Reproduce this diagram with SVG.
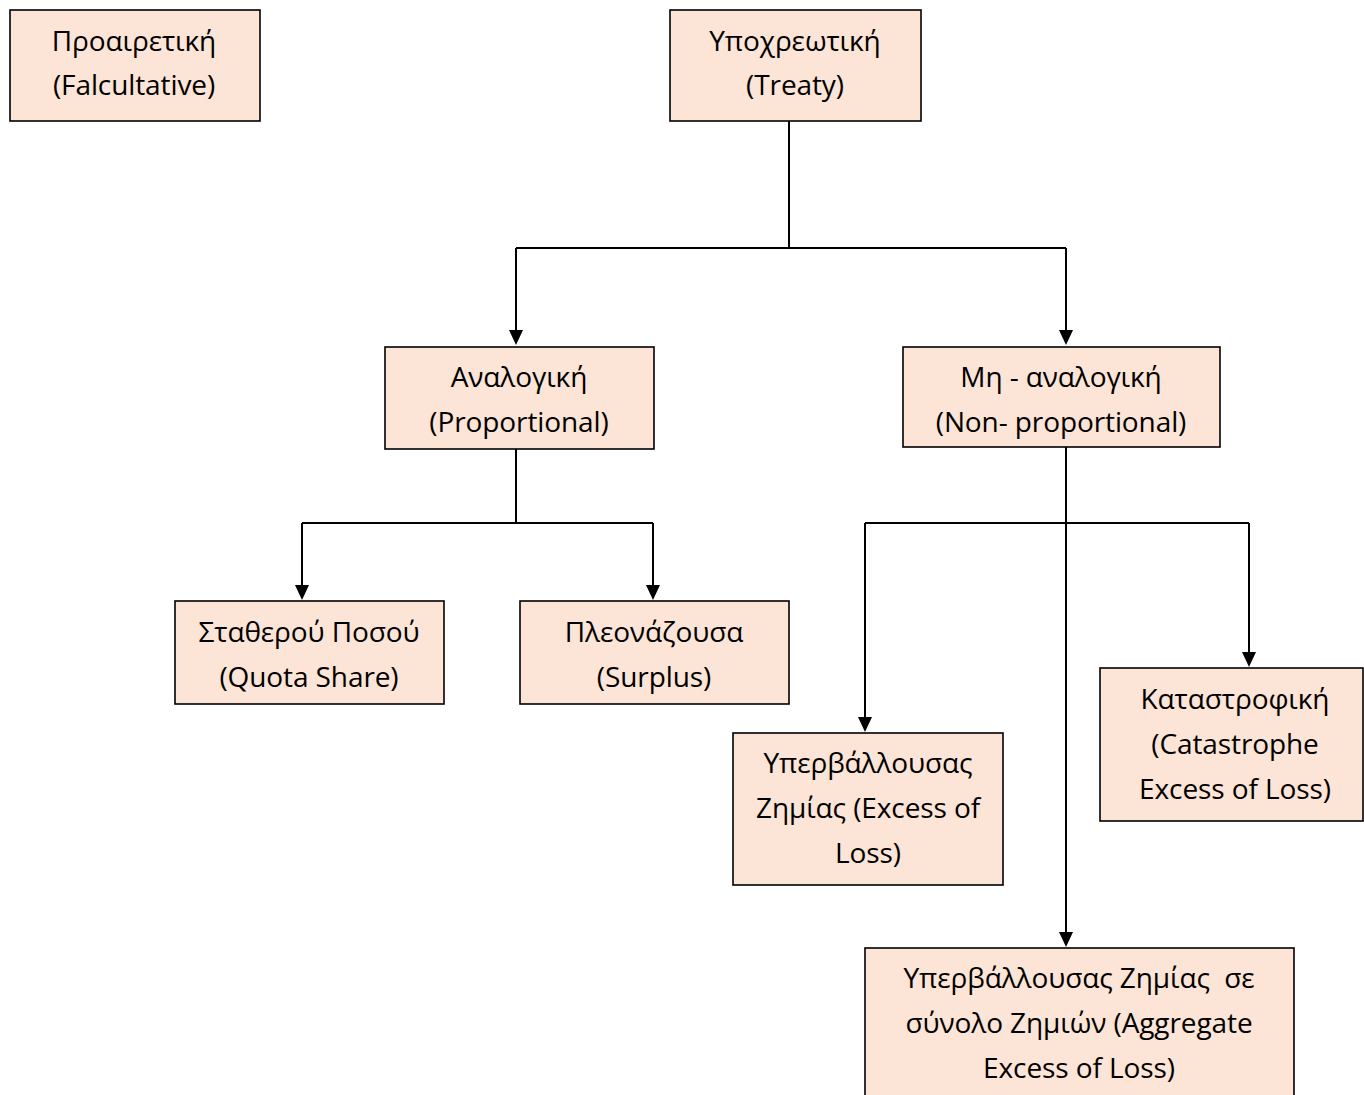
<svg xmlns="http://www.w3.org/2000/svg" width="1364" height="1095" viewBox="0 0 1364 1095">
<style>
.box{fill:#FCE4D6;stroke:#000;stroke-width:1.6}
.t{font-family:"Open Sans","Noto Sans",sans-serif;font-size:28px;fill:#000;text-anchor:middle;letter-spacing:-0.1px;white-space:pre}
.c{fill:none;stroke:#000;stroke-width:2}
</style>
<rect width="1364" height="1095" fill="#fff"/>
<g id="connectors">
<path class="c" d="M789,121 V248"/>
<path class="c" d="M516,248 H1066"/>
<path class="c" d="M516,248 V335"/>
<path class="c" d="M1066,248 V335"/>
<path class="c" d="M516,449 V523"/>
<path class="c" d="M302,523 H653"/>
<path class="c" d="M302,523 V590"/>
<path class="c" d="M653,523 V590"/>
<path class="c" d="M1066,447 V936"/>
<path class="c" d="M865,523 H1249"/>
<path class="c" d="M865,523 V721"/>
<path class="c" d="M1249,523 V656"/>
<path d="M509,330 L523,330 L516,345 Z"/>
<path d="M1059,330 L1073,330 L1066,345 Z"/>
<path d="M295,585 L309,585 L302,600 Z"/>
<path d="M646,585 L660,585 L653,600 Z"/>
<path d="M858,717 L872,717 L865,732 Z"/>
<path d="M1242,652 L1256,652 L1249,667 Z"/>
<path d="M1059,932 L1073,932 L1066,947 Z"/>
</g>
<g id="n-facultative">
<rect class="box" x="10" y="10" width="250" height="111"/>
<text class="t" x="134" y="51">Προαιρετική</text>
<text class="t" x="134" y="95">(Falcultative)</text>
</g>
<g id="n-treaty">
<rect class="box" x="670" y="10" width="251" height="111"/>
<text class="t" x="795" y="51">Υποχρεωτική</text>
<text class="t" x="795" y="95">(Treaty)</text>
</g>
<g id="n-proportional">
<rect class="box" x="385" y="347" width="269" height="102"/>
<text class="t" x="519" y="387">Αναλογική</text>
<text class="t" x="519" y="432">(Proportional)</text>
</g>
<g id="n-nonproportional">
<rect class="box" x="903" y="347" width="317" height="100"/>
<text class="t" x="1061" y="387">Μη - αναλογική</text>
<text class="t" x="1061" y="432">(Non- proportional)</text>
</g>
<g id="n-quota">
<rect class="box" x="175" y="601" width="269" height="103"/>
<text class="t" x="309" y="642">Σταθερού Ποσού</text>
<text class="t" x="309" y="687">(Quota Share)</text>
</g>
<g id="n-surplus">
<rect class="box" x="520" y="601" width="269" height="103"/>
<text class="t" x="654" y="642">Πλεονάζουσα</text>
<text class="t" x="654" y="687">(Surplus)</text>
</g>
<g id="n-xol">
<rect class="box" x="733" y="733" width="270" height="152"/>
<text class="t" x="868" y="773">Υπερβάλλουσας</text>
<text class="t" x="868" y="818">Ζημίας (Excess of</text>
<text class="t" x="868" y="863">Loss)</text>
</g>
<g id="n-cat">
<rect class="box" x="1100" y="668" width="263" height="153"/>
<text class="t" x="1235" y="709">Καταστροφική</text>
<text class="t" x="1235" y="754">(Catastrophe</text>
<text class="t" x="1235" y="799">Excess of Loss)</text>
</g>
<g id="n-aggregate">
<rect class="box" x="865" y="948" width="429" height="160"/>
<text class="t" x="1079" y="988">Υπερβάλλουσας Ζημίας  σε</text>
<text class="t" x="1079" y="1033">σύνολο Ζημιών (Aggregate</text>
<text class="t" x="1079" y="1078">Excess of Loss)</text>
</g>
</svg>
